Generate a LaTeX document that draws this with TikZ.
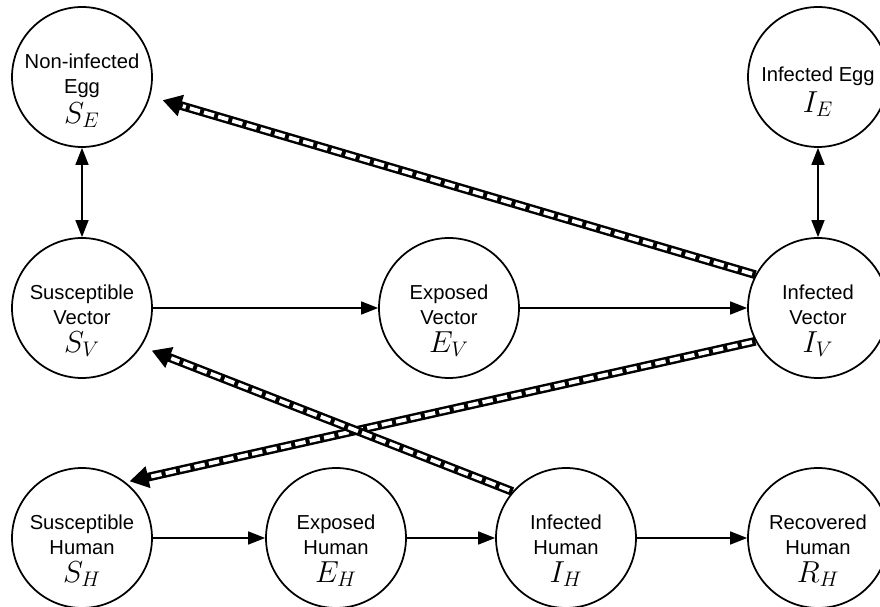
\documentclass[tikz,border=0pt]{standalone}
\usepackage{fontspec}
\setmainfont{Liberation Sans}
\usepackage{tikz}
\usetikzlibrary{arrows.meta}

\tikzset{
    comp/.style={circle, draw, line width=1pt, minimum size=2.8cm, inner sep=0pt},
    lbl/.style={align=center, font=\fontsize{11.5}{14}\selectfont},
    arr/.style={line width=0.9pt, -{Triangle[length=0.34cm, width=0.26cm]}},
    dblarr/.style={line width=5pt, -{Triangle[length=0.38cm, width=0.42cm]}, shorten >=#1,
        postaction={draw=white, line width=2.2pt, -, dash pattern=on 6pt off 2.4pt,
            shorten <=0.07cm, shorten >=#1+0.42cm}},
    dblarr/.default=0cm
}
\newcommand{\sym}[1]{\\[2pt]{\fontsize{17.5}{17.5}\selectfont$#1$}}

\begin{document}
\begin{tikzpicture}[x=0.02cm, y=-0.02cm]
    \useasboundingbox (0,0) rectangle (880,607);
    %uova
    \node[comp] (SE) at (82,77) {};
    \node[comp] (IE) at (818,77) {};
    \node[lbl] (SEt) at (82,91) {Non-infected\\Egg\sym{S_E}};
    \node[lbl] (IEt) at (818,92) {Infected Egg\sym{I_E}};
    %vettori
    \node[comp] (SV) at (82,308) {};
    \node[comp] (EV) at (449,308) {};
    \node[comp] (IV) at (818,308) {};
    \node[lbl] (SVt) at (82,321) {Susceptible\\Vector\sym{S_V}};
    \node[lbl] (EVt) at (449,321) {Exposed\\Vector\sym{E_V}};
    \node[lbl] (IVt) at (818,321) {Infected\\Vector\sym{I_V}};
    %umani
    \node[comp] (SH) at (82,538) {};
    \node[comp] (EH) at (336,538) {};
    \node[comp] (IH) at (566,538) {};
    \node[comp] (RH) at (818,538) {};
    \node[lbl] (SHt) at (82,551) {Susceptible\\Human\sym{S_H}};
    \node[lbl] (EHt) at (336,551) {Exposed\\Human\sym{E_H}};
    \node[lbl] (IHt) at (566,551) {Infected\\Human\sym{I_H}};
    \node[lbl] (RHt) at (818,551) {Recovered\\Human\sym{R_H}};
    %frecce semplici
    \draw[arr, {Triangle[length=0.34cm, width=0.26cm]}-{Triangle[length=0.34cm, width=0.26cm]}] (SE) -- (SV);
    \draw[arr, {Triangle[length=0.34cm, width=0.26cm]}-{Triangle[length=0.34cm, width=0.26cm]}] (IE) -- (IV);
    \draw[arr] (SV) -- (EV);
    \draw[arr] (EV) -- (IV);
    \draw[arr] (SH) -- (EH);
    \draw[arr] (EH) -- (IH);
    \draw[arr] (IH) -- (RH);
    %frecce doppie
    \draw[dblarr=0.26cm] (IV.152) -- (SE.-16);
    \draw[dblarr=0.08cm] (IV.208) -- (SH.52);
    \draw[dblarr=0.22cm] (IH.139) -- (SV.-33);
\end{tikzpicture}
\end{document}
